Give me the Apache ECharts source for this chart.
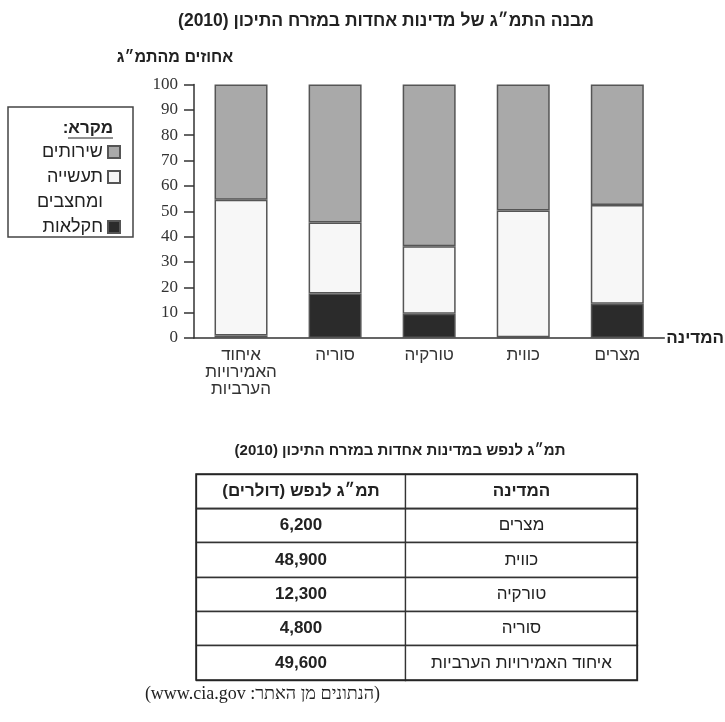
<!DOCTYPE html>
<html dir="rtl">
<head>
<meta charset="utf-8">
<script src="https://cdn.jsdelivr.net/npm/echarts@6/dist/echarts.min.js"></script>
<style>html,body{margin:0;padding:0;background:#fff}#chart{width:725px;height:722px}</style>
</head>
<body>
<div id="chart"></div>
<script>
// ---- data ----
var categories = ['איחוד\nהאמירויות\nהערביות', 'סוריה', 'טורקיה', 'כווית', 'מצרים'];
var seriesNames = ['חקלאות', 'תעשייה ומחצבים', 'שירותים'];
var agriculture = [1, 17.6, 9.6, 0.3, 13.5];
var industry = [53.5, 28, 26.6, 50, 39];
var services = [45.5, 54.4, 63.8, 49.7, 47.5];
var yTicks = [0, 100, 10];
var tableHeaders = ['תמ״ג לנפש (דולרים)', 'המדינה'];
var tableCountries = ['מצרים', 'כווית', 'טורקיה', 'סוריה', 'איחוד האמירויות הערביות'];
var gdpPerCapita = [6200, 48900, 12300, 4800, 49600];

var HEB = '"Liberation Sans", "DejaVu Sans", sans-serif';
var SERIF = '"Liberation Serif", "DejaVu Serif", serif';

var bodyData = [];
tableCountries.forEach(function (c, i) {
  bodyData.push({ coord: [tableHeaders[0], c], value: gdpPerCapita[i].toLocaleString('en-US'), label: { fontWeight: 'bold' } });
  bodyData.push({ coord: [tableHeaders[1], c], value: c });
});

var chart = echarts.init(document.getElementById('chart'), null, { renderer: 'canvas' });
var barStyle = function (color) {
  return { color: color, borderColor: '#555', borderWidth: 1.5 };
};
chart.setOption({
  animation: false,
  backgroundColor: '#fff',
  grid: { left: 194, right: 56, top: 84.5, bottom: 384 },
  xAxis: {
    type: 'category',
    data: categories,
    name: 'המדינה',
    nameLocation: 'end',
    nameGap: 2,
    nameTextStyle: { fontFamily: HEB, fontSize: 17, fontWeight: 'bold', color: '#222' },
    axisLine: { lineStyle: { color: '#333', width: 1.5 } },
    axisTick: { show: false },
    axisLabel: { fontFamily: HEB, fontSize: 17, color: '#333', margin: 9, lineHeight: 17 }
  },
  yAxis: {
    type: 'value',
    min: yTicks[0], max: yTicks[1], interval: yTicks[2],
    splitLine: { show: false },
    axisLine: { show: true, lineStyle: { color: '#333', width: 1.5 } },
    axisTick: { show: true, length: 10, lineStyle: { color: '#333', width: 1.5 } },
    axisLabel: { fontFamily: SERIF, fontSize: 17, color: '#333', margin: 16 }
  },
  legend: {
    orient: 'vertical', align: 'right', right: 604, top: 139.5, padding: 0, itemGap: -25,
    itemWidth: 12, itemHeight: 12, icon: 'rect',
    textStyle: { fontFamily: HEB, fontSize: 18, lineHeight: 25, color: '#222' },
    formatter: function (n) {
      if (n === seriesNames[1]) return '\n' + n.replace(' ', '\n');
      if (n === seriesNames[0]) return '\n' + n + '\n';
      return n;
    },
    data: [seriesNames[2], seriesNames[1], seriesNames[0]]
  },
  series: [
    { name: seriesNames[0], type: 'bar', stack: 'g', barWidth: 53, data: agriculture, itemStyle: barStyle('#2b2b2b') },
    { name: seriesNames[1], type: 'bar', stack: 'g', barWidth: 53, data: industry, itemStyle: barStyle('#f7f7f7') },
    { name: seriesNames[2], type: 'bar', stack: 'g', barWidth: 53, data: services, itemStyle: barStyle('#a9a9a9') }
  ],
  matrix: {
    left: 196, top: 474, width: 441, height: 206,
    x: {
      data: [{ value: tableHeaders[0], size: 209 }, { value: tableHeaders[1] }],
      label: { fontFamily: HEB, fontSize: 17, fontWeight: 'bold', color: '#222', overflow: 'none' },
      itemStyle: { color: '#fff', borderColor: '#333', borderWidth: 1.3 },
      dividerLineStyle: { color: '#333', width: 1.3 }
    },
    y: { data: tableCountries, show: false },
    body: {
      data: bodyData,
      label: { fontFamily: HEB, fontSize: 17, color: '#222', overflow: 'none' },
      itemStyle: { color: '#fff', borderColor: '#333', borderWidth: 1.3 }
    },
    backgroundStyle: { color: '#fff', borderColor: '#222', borderWidth: 1.5 }
  },
  graphic: [
    { type: 'text', x: 386, y: 21, style: { text: 'מבנה התמ״ג של מדינות אחדות במזרח התיכון (2010)', font: 'bold 17.5px ' + HEB, fill: '#222', align: 'center', verticalAlign: 'middle' } },
    { type: 'text', x: 175, y: 58, style: { text: 'אחוזים מהתמ״ג', font: 'bold 16px ' + HEB, fill: '#222', align: 'center', verticalAlign: 'middle' } },
    { type: 'rect', shape: { x: 8, y: 107, width: 125, height: 130 }, style: { fill: 'none', stroke: '#444', lineWidth: 1.5 } },
    { type: 'text', x: 113, y: 128, style: { text: 'מקרא:', font: 'bold 17px ' + HEB, fill: '#222', align: 'right', verticalAlign: 'middle' } },
    { type: 'line', shape: { x1: 68, y1: 138, x2: 113, y2: 138 }, style: { stroke: '#222', lineWidth: 1.2 } },
    { type: 'text', x: 400, y: 451, style: { text: 'תמ״ג לנפש במדינות אחדות במזרח התיכון (2010)', font: 'bold 15px ' + HEB, fill: '#222', align: 'center', verticalAlign: 'middle' } },
    { type: 'text', x: 380, y: 694, style: { text: '(הנתונים מן האתר: www.cia.gov)', font: '18px ' + SERIF, fill: '#222', align: 'right', verticalAlign: 'middle' } }
  ]
});
</script>
</body>
</html>
